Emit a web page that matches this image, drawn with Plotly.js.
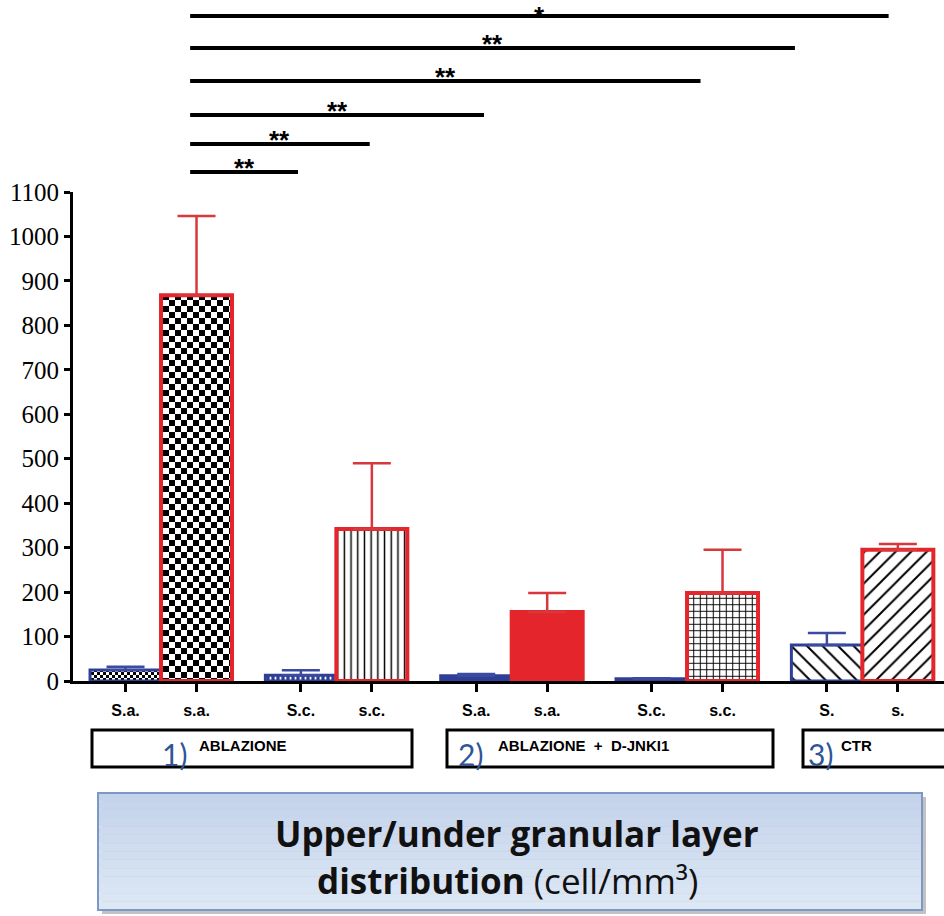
<!DOCTYPE html>
<html>
<head>
<meta charset="utf-8">
<script src="https://cdn.plot.ly/plotly-3.0.1.min.js"></script>
<style>html,body{margin:0;padding:0;background:#fff;}#chart{width:944px;height:916px;}</style>
</head>
<body>
<div id="chart"></div>
<script>
// ---------- data ----------
const groupNames = ["ABLAZIONE", "ABLAZIONE  +  D-JNKI1", "CTR"];
const groupNumbers = ["1)", "2)", "3)"];
const tickLabels = ["S.a.", "s.a.", "S.c.", "s.c.", "S.a.", "s.a.", "S.c.", "s.c.", "S.", "s."];
// upper (blue outline) series, one per pair
const upperValues = [25, 13, 12, 5, 81];
const upperErrors = [7, 11, 4, 1, 27];
// under (red outline) series, one per pair
const underValues = [868, 342, 155, 198, 295];
const underErrors = [178, 148, 43, 97, 13];
// significance comparisons (x in axis units), label
const sigFrom = [0.91, 0.91, 0.91, 0.91, 0.91, 0.91];
const sigTo = [10.75, 9.43, 8.10, 5.05, 3.44, 2.43];
const sigLabels = ["*", "**", "**", "**", "**", "**"];

// ---------- layout helpers ----------
const pairStep = 2.47;
const xUpper = upperValues.map((v, i) => i * pairStep);
const xUnder = underValues.map((v, i) => i * pairStep + 1);
const tickVals = [];
xUpper.forEach((x, i) => { tickVals.push(x, xUnder[i]); });

const BLUE = "#2f3f97";
const RED = "#e4262c";

const upperTrace = {
  type: "bar", x: xUpper, y: upperValues, width: 1,
  marker: {
    color: BLUE,
    line: {color: BLUE, width: 3},
    pattern: {
      shape: [".", "|", "", "", "\\"],
      fgcolor: ["#000", "#fff", BLUE, BLUE, "#000"],
      bgcolor: ["#fff", BLUE, BLUE, BLUE, "#fff"],
      size: [6, 5, 8, 8, 11],
      solidity: [0.5, 0.35, 0.3, 0.3, 0.18],
      fillmode: "replace"
    }
  },
  error_y: {type: "data", symmetric: false, array: upperErrors, arrayminus: upperValues.map(() => 0),
            color: "#3b4b9f", thickness: 2.5, width: 19},
  hoverinfo: "skip", showlegend: false
};
const underTrace = {
  type: "bar", x: xUnder, y: underValues, width: 1,
  marker: {
    color: RED,
    line: {color: RED, width: 4},
    pattern: {
      shape: [".", "|", "", "+", "/"],
      fgcolor: ["#000", "#000", RED, "#000", "#000"],
      bgcolor: ["#fff", "#fff", RED, "#fff", "#fff"],
      size: [12, 6.7, 8, 6.5, 11],
      solidity: [0.5, 0.22, 0.3, 0.28, 0.18],
      fillmode: "replace"
    }
  },
  error_y: {type: "data", symmetric: false, array: underErrors, arrayminus: underValues.map(() => 0),
            color: "#d8373b", thickness: 2.5, width: 19},
  hoverinfo: "skip", showlegend: false
};

// pixel helpers for paper coordinates
const W = 944, H = 916, ML = 73, MR = 0, MT = 192, MB = 235;
const PW = W - ML - MR, PH = H - MT - MB;
const px = v => (v - ML) / PW;
const py = v => (H - MB - v) / PH;

const shapes = [];
const annotations = [];

// significance bars
const sigY = [16, 48, 81, 115, 144, 172];
const sigShift = [-16, -12, -12, -12, -12, -12];
sigLabels.forEach((lab, i) => {
  shapes.push({type: "line", xref: "x", yref: "paper", x0: sigFrom[i], x1: sigTo[i],
    y0: py(sigY[i]), y1: py(sigY[i]), line: {color: "#000", width: 4}});
  annotations.push({xref: "x", yref: "paper", x: (sigFrom[i] + sigTo[i]) / 2, y: py(sigY[i]),
    text: "<b>" + lab + "</b>", showarrow: false, xanchor: "center", yanchor: "bottom", yshift: sigShift[i],
    borderpad: 0,
    font: {family: "Liberation Sans", size: 26, color: "#000"}});
});

// group boxes
const boxX = [[92, 412], [447, 773], [803, 952]];
const numX = [160, 456, 806];
const nameX = [197, 496, 839];
const nameSize = [15, 15, 15];
groupNames.forEach((name, i) => {
  shapes.push({type: "rect", xref: "paper", yref: "paper", x0: px(boxX[i][0]), x1: px(boxX[i][1]),
    y0: py(730), y1: py(767), line: {color: "#000", width: 3}, fillcolor: "rgba(0,0,0,0)"});
  annotations.push({xref: "paper", yref: "paper", x: px(numX[i]), y: py(754), text: groupNumbers[i],
    showarrow: false, xanchor: "left", yanchor: "middle",
    font: {family: "Lato", size: 30, color: "#2f5597"}});
  annotations.push({xref: "paper", yref: "paper", x: px(nameX[i]), y: py(745),
    text: "<b>" + name.replace(/ /g, "&nbsp;") + "</b>",
    showarrow: false, xanchor: "left", yanchor: "middle",
    font: {family: "Liberation Sans", size: nameSize[i], color: "#000"}});
});

// title box with shadow and vertical gradient bands
shapes.push({type: "rect", xref: "paper", yref: "paper", x0: px(102), x1: px(926), y0: py(797), y1: py(914),
  line: {width: 0}, fillcolor: "rgba(120,120,120,0.45)"});
const bandTop = [196, 211, 236], bandBot = [221, 232, 245];
const nBands = 14;
for (let k = 0; k < nBands; k++) {
  const t = k / (nBands - 1);
  const c = bandTop.map((a, j) => Math.round(a + (bandBot[j] - a) * t));
  const y0 = 793 + (910 - 793) * k / nBands, y1 = 793 + (910 - 793) * (k + 1) / nBands;
  shapes.push({type: "rect", xref: "paper", yref: "paper", x0: px(98), x1: px(922), y0: py(y0), y1: py(y1),
    line: {width: 0}, fillcolor: "rgb(" + c.join(",") + ")"});
}
shapes.push({type: "rect", xref: "paper", yref: "paper", x0: px(98), x1: px(922), y0: py(793), y1: py(910),
  line: {color: "#7d98c4", width: 2}, fillcolor: "rgba(0,0,0,0)"});
annotations.push({xref: "paper", yref: "paper", x: px(517), y: py(833),
  text: "<b>Upper/under granular layer</b>", showarrow: false, xanchor: "center", yanchor: "middle",
  font: {family: "Open Sans", size: 35, color: "#111"}});
annotations.push({xref: "paper", yref: "paper", x: px(507), y: py(880),
  text: "<b>distribution</b> (cell/mm³)", showarrow: false, xanchor: "center", yanchor: "middle",
  font: {family: "Open Sans", size: 35, color: "#111"}});

const layout = {
  width: W, height: H, autosize: false,
  margin: {l: ML, r: MR, t: MT, b: MB, pad: 0},
  paper_bgcolor: "#fff", plot_bgcolor: "#fff",
  barmode: "overlay",
  showlegend: false,
  xaxis: {
    range: [-0.74, 11.53], tickvals: tickVals, ticktext: tickLabels.map(t => "<b>" + t + "</b>"),
    showgrid: false, zeroline: false, showline: true, linecolor: "#000", linewidth: 3,
    ticks: "outside", ticklen: 8, tickwidth: 3, tickcolor: "#000",
    tickfont: {family: "Liberation Sans", size: 16, color: "#000"}, ticklabelstandoff: 5,
    fixedrange: true
  },
  yaxis: {
    range: [0, 1100], tickvals: [0,100,200,300,400,500,600,700,800,900,1000,1100],
    showgrid: false, zeroline: false, showline: true, linecolor: "#000", linewidth: 3,
    ticks: "outside", ticklen: 6, tickwidth: 3, tickcolor: "#000",
    tickfont: {family: "Liberation Serif", size: 25, color: "#000"}, ticklabelstandoff: 0,
    fixedrange: true
  },
  shapes: shapes,
  annotations: annotations
};

Plotly.newPlot("chart", [upperTrace, underTrace], layout, {staticPlot: true, displayModeBar: false})
.then(gd => {
  // turn dot patterns into checkerboards
  gd.querySelectorAll("pattern").forEach(p => {
    const c = p.querySelector("circle");
    if (!c) return;
    const s = parseFloat(p.getAttribute("width"));
    const fill = c.style.fill || c.getAttribute("fill") || "#000";
    c.parentNode.removeChild(c);
    const h = s / 2;
    [[0, 0], [h, h]].forEach(([x, y]) => {
      const r = document.createElementNS("http://www.w3.org/2000/svg", "rect");
      r.setAttribute("x", x); r.setAttribute("y", y);
      r.setAttribute("width", h); r.setAttribute("height", h);
      r.setAttribute("fill", fill);
      p.appendChild(r);
    });
  });
});
</script>
</body>
</html>
